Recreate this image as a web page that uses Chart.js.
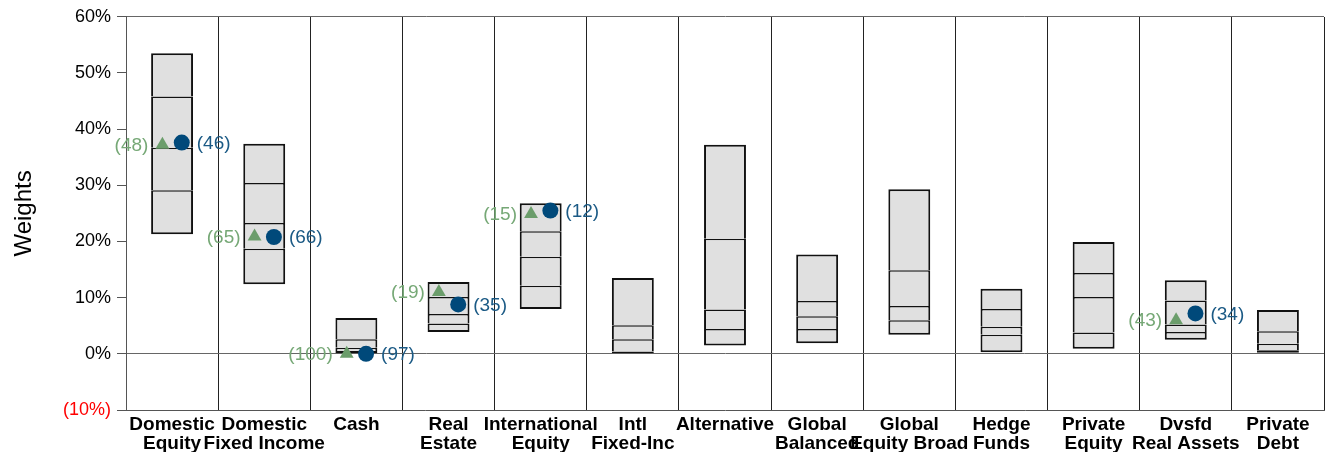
<!DOCTYPE html>
<html>
<head>
<meta charset="utf-8">
<script src="https://cdn.jsdelivr.net/npm/chart.js@4.4.1/dist/chart.umd.min.js"></script>
<style>
  html, body { margin: 0; padding: 0; background: #fff; }
  canvas { display: block; }
</style>
</head>
<body>
<canvas id="chart" width="1332" height="452"></canvas>
<script>
// category labels, split into the two lines shown under the axis
const categories = [
  ['Domestic', 'Equity'],
  ['Domestic', 'Fixed Income'],
  ['Cash'],
  ['Real', 'Estate'],
  ['International', 'Equity'],
  ['Intl', 'Fixed-Inc'],
  ['Alternative'],
  ['Global', 'Balanced'],
  ['Global', 'Equity Broad'],
  ['Hedge', 'Funds'],
  ['Private', 'Equity'],
  ['Dvsfd', 'Real Assets'],
  ['Private', 'Debt']
];

// box breakpoints (weights in %), bottom to top
const p5  = [21.3, 12.4, 0.1, 3.9,  8.0, 0.1,  1.5,  1.9,  3.4,  0.3,  0.9,  2.5, 0.2];
const p25 = [29.1, 18.7, 0.5, 5.4, 12.1, 0.4,  4.4,  4.4,  6.0,  3.4,  3.8,  3.9, 0.65];
const p50 = [36.7, 23.3, 1.1, 7.1, 17.3, 2.6,  7.9,  6.7,  8.5,  4.8, 10.1,  5.2, 1.8];
const p75 = [45.8, 30.4, 2.6, 10.1, 21.8, 5.1, 20.5,  9.4, 14.9,  8.0, 14.4,  9.5, 4.0];
const p95 = [53.5, 37.4, 6.4, 12.8, 26.8, 13.5, 37.2, 17.7, 29.3, 11.6, 19.9, 13.1, 7.8];

// the two plotted portfolios and their ranks
const triValues  = [37.2, 20.9, 0, 11.0, 24.9, null, null, null, null, null, null, 6.0, null];
const triRanks   = [48, 65, 100, 19, 15, null, null, null, null, null, null, 43, null];
const dotValues  = [37.6, 20.8, 0, 8.8, 25.5, null, null, null, null, null, null, 7.2, null];
const dotRanks   = [46, 66, 97, 35, 12, null, null, null, null, null, null, 34, null];

const yTicks = [-10, 0, 10, 20, 30, 40, 50, 60];

const FONT = "'Liberation Sans', Arial, Helvetica, sans-serif";
const GREEN = '#6b9d6b', GREEN_TXT = '#76a876';
const BLUE = '#00497a', BLUE_TXT = '#1b5a85';

// one slice of each box; only the bottom slice gets a bottom edge so the
// dividers stay single lines
const segment = (lo, hi, first, last) => ({
  type: 'bar',
  data: lo.map((v, i) => ({ x: i, y: [v, hi[i]] })),
  backgroundColor: '#e0e0e0',
  borderColor: '#111',
  borderWidth: { top: last ? 2 : 1.5, left: 2, right: 2, bottom: first ? 2 : 0 },
  borderSkipped: false,
  grouped: false,
  barPercentage: 0.455,
  categoryPercentage: 1,
  order: 2
});

const markers = (vals, offset, style, radius, color, ranks, side) => ({
  type: 'line',
  data: vals.map((v, i) => (v === null ? null : { x: i + offset, y: v })).filter(Boolean),
  ranks: ranks.filter(r => r !== null),
  side: side,
  txtColor: side === 'left' ? GREEN_TXT : BLUE_TXT,
  showLine: false,
  pointStyle: style,
  pointRadius: radius,
  pointHoverRadius: radius,
  pointBackgroundColor: color,
  pointBorderColor: color,
  pointBorderWidth: 0,
  order: 1
});

const rankLabels = {
  id: 'rankLabels',
  afterDatasetsDraw(chart) {
    const ctx = chart.ctx;
    ctx.save();
    ctx.font = '19px ' + FONT;
    ctx.textBaseline = 'middle';
    chart.data.datasets.forEach((ds, di) => {
      if (!ds.ranks) return;
      const meta = chart.getDatasetMeta(di);
      meta.data.forEach((pt, k) => {
        ctx.fillStyle = ds.txtColor;
        if (ds.side === 'left') {
          ctx.textAlign = 'right';
          ctx.fillText('(' + ds.ranks[k] + ')', pt.x - 14, pt.y + 1);
        } else {
          ctx.textAlign = 'left';
          ctx.fillText('(' + ds.ranks[k] + ')', pt.x + 15, pt.y + 1);
        }
      });
    });
    ctx.restore();
  }
};

new Chart(document.getElementById('chart'), {
  data: {
    datasets: [
      segment(p5, p25, true, false),
      segment(p25, p50, false, false),
      segment(p50, p75, false, false),
      segment(p75, p95, false, true),
      markers(triValues, -0.105, 'triangle', 8, GREEN, triRanks, 'left'),
      markers(dotValues, 0.105, 'circle', 8, BLUE, dotRanks, 'right')
    ]
  },
  options: {
    responsive: false,
    animation: false,
    layout: { padding: { top: 5, right: 6, left: 0, bottom: 0 } },
    plugins: { legend: { display: false }, tooltip: { enabled: false } },
    scales: {
      x: {
        type: 'linear',
        position: 'bottom',
        offset: false,
        min: -0.5,
        max: 12.5,
        afterBuildTicks: s => { s.ticks = categories.map((c, i) => ({ value: i })); },
        afterFit: s => { s.height = 42; },
        grid: { display: false, drawTicks: false, offset: false },
        border: { display: true, color: '#555', width: 1 },
        ticks: {
          autoSkip: false,
          maxRotation: 0,
          padding: 5,
          color: '#000',
          font: { family: FONT, size: 19, weight: 'bold', lineHeight: 1.0 },
          callback: v => categories[Math.round(v)]
        }
      },
      x2: {
        type: 'linear',
        position: 'top',
        offset: false,
        min: -0.5,
        max: 12.5,
        afterBuildTicks: s => { s.ticks = categories.concat([null]).map((c, i) => ({ value: i - 0.5 })); },
        afterFit: s => { s.height = 0; },
        grid: { color: '#222', lineWidth: 1, drawTicks: false, offset: false },
        border: { display: false },
        ticks: { display: false }
      },
      y: {
        min: -10,
        max: 60,
        afterBuildTicks: s => { s.ticks = yTicks.map(v => ({ value: v })); },
        afterFit: s => { s.width = 126; },
        grid: {
          color: c => (c.tick && (c.tick.value === 0 || c.tick.value === 60) ? '#666' : 'rgba(0,0,0,0)'),
          tickColor: '#555',
          tickLength: 9,
          lineWidth: 1
        },
        border: { display: true, color: '#555', width: 1 },
        title: {
          display: true,
          text: 'Weights',
          color: '#000',
          font: { family: FONT, size: 24 },
          padding: { top: 10, bottom: 6 }
        },
        ticks: {
          padding: 6,
          font: { family: FONT, size: 18 },
          color: c => (c.tick.value < 0 ? '#ff0000' : '#000'),
          callback: v => (v < 0 ? '(' + (-v) + '%)' : v + '%')
        }
      }
    }
  },
  plugins: [rankLabels]
});
</script>
</body>
</html>
